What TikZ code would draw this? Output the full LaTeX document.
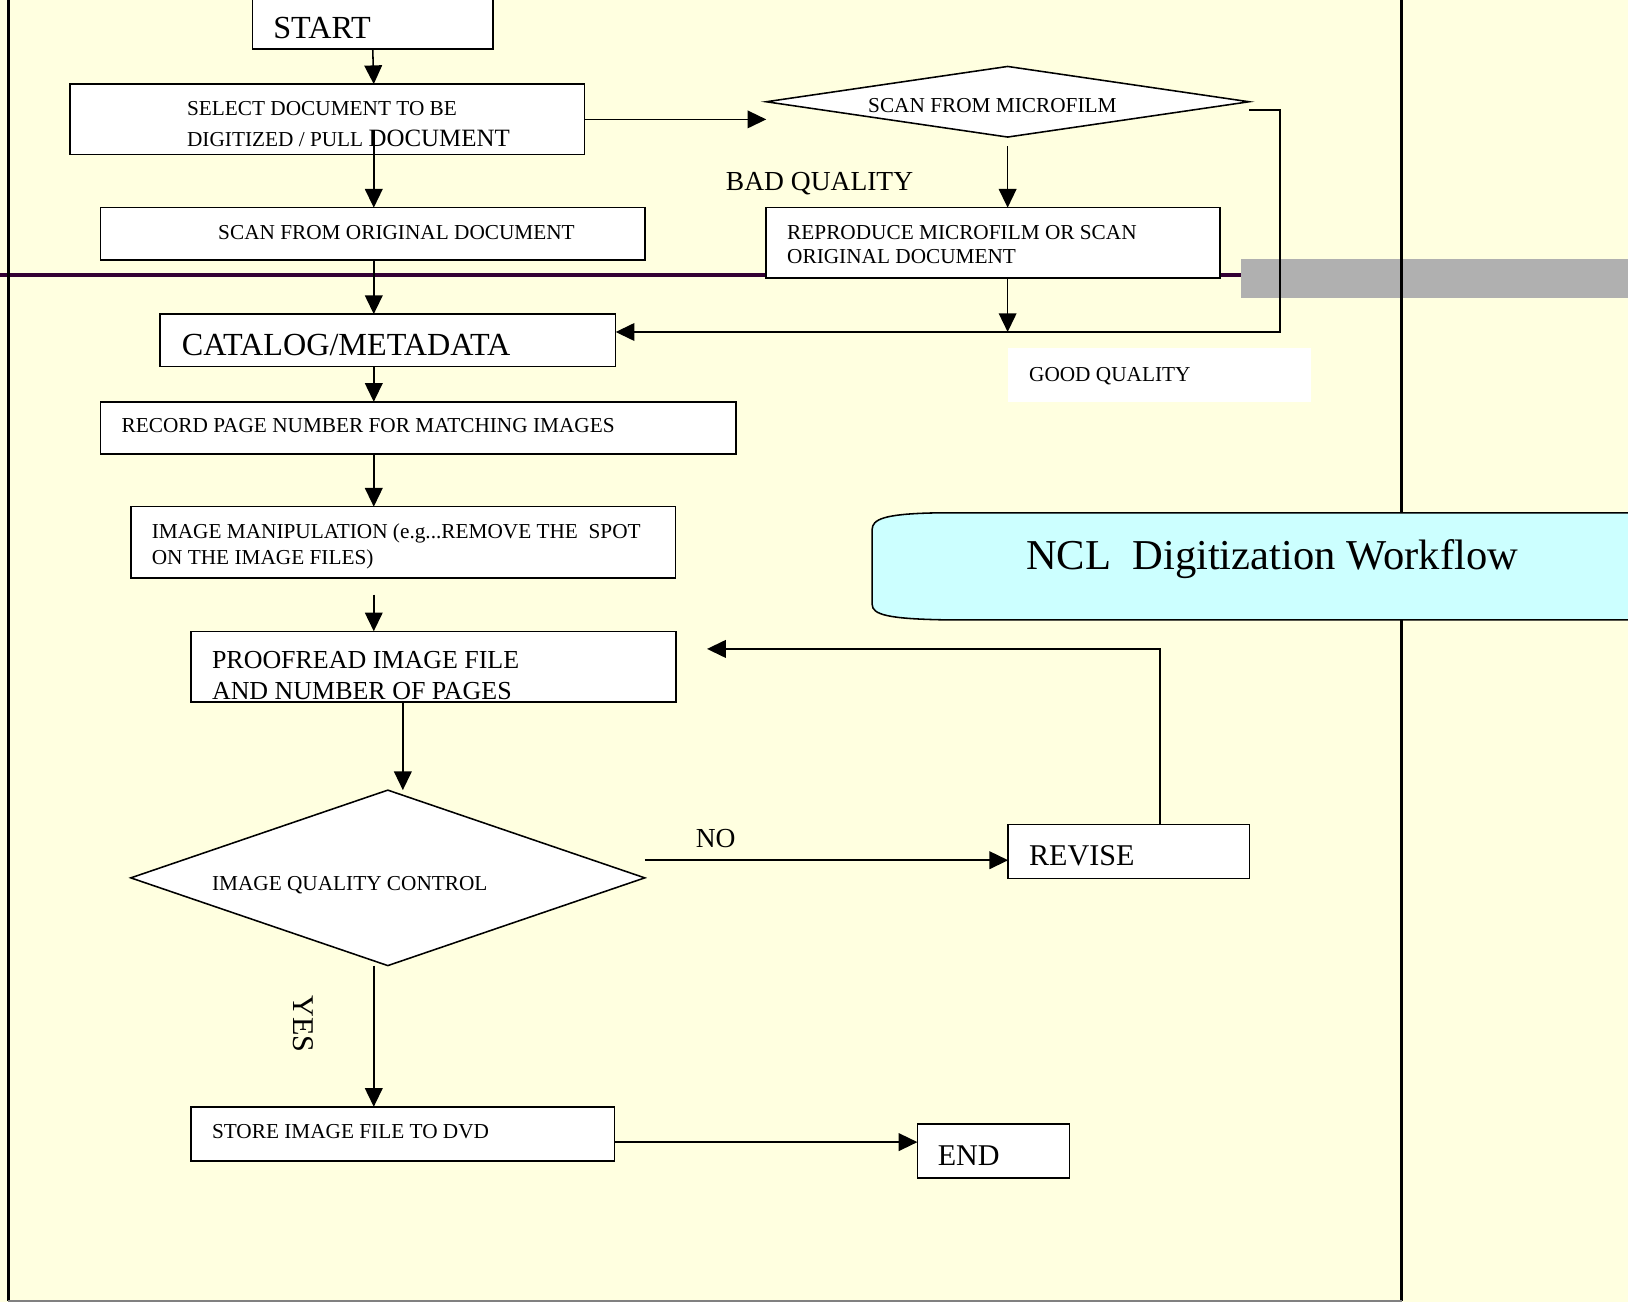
\documentclass[tikz,border=0pt]{standalone}
\usepackage{fontspec}
\setmainfont{Liberation Serif}
\usetikzlibrary{shapes.geometric,fit,arrows.meta}
\definecolor{paper}{RGB}{255,255,224}
\definecolor{banner}{RGB}{204,255,255}
\definecolor{rulecol}{RGB}{51,0,51}
\definecolor{barcol}{RGB}{176,176,176}
\begin{document}
\begin{tikzpicture}[x=1pt,y=-1pt,
    box/.style={draw,fill=white,line width=1.5pt,inner sep=0pt,outer sep=0pt},
    dmd/.style={draw,fill=white,diamond,line width=1.5pt,inner sep=0pt,outer sep=0pt},
    txt/.style={inner sep=0pt,anchor=base west},
    fsmall/.style={font=\fontsize{20.5}{24}\selectfont},
    fmid/.style={font=\fontsize{25}{29}\selectfont},
    flabel/.style={font=\fontsize{26.5}{30}\selectfont},
    fbig/.style={font=\fontsize{31}{35}\selectfont},
    fbigb/.style={font=\fontsize{29}{33}\selectfont},
    ftitle/.style={font=\fontsize{41}{45}\selectfont},
    arr/.style={line width=1.5pt,-{Triangle[length=18pt,width=17pt]}}]
      \clip (0,0) rectangle (1568,1254);
      \fill[paper] (0,0) rectangle (1568,1254);
      \draw[rulecol,line width=4pt] (0,264.5) -- (1195,264.5);
      \fill[barcol] (1195,249) rectangle (1600,287);
      \draw[line width=2.5pt] (8,-5) -- (8,1253) (1350,-5) -- (1350,1253);
      \draw[gray,line width=2pt] (8,1253) -- (1350,1253);
      % boxes and decisions
      \node[box,fit={(243,-10) (475,47.4)}] (start) {};
      \node[box,fit={(67.5,81) (563,149)}] (select) {};
      \node[box,fit={(96.7,200) (621,250.6)}] (scanorig) {};
      \node[box,fit={(154,302.5) (593,353)}] (catalog) {};
      \node[box,fit={(96.6,387) (709,437)}] (record) {};
      \node[box,fit={(126,488) (650.5,556.6)}] (manip) {};
      \node[box,fit={(184,608) (651,676)}] (proof) {};
      \node[box,fit={(184,1066) (592,1118)}] (store) {};
      \node[box,fit={(738,200) (1175,268)}] (repro) {};
      \node[box,fit={(971,794) (1203.5,846)}] (revise) {};
      \node[box,fit={(883.6,1082.6) (1030,1134.5)}] (stop) {};
      \node[fill=white,inner sep=0pt,fit={(971,335) (1263,387)}] (goodq) {};
      \node[dmd,minimum width=465pt,minimum height=68pt] (mf) at (970.5,98) {};
      \node[dmd,minimum width=495pt,minimum height=169pt] (quality) at (373.5,845.5) {};
      % texts
      \node[txt,fbig] (t-start) at (263,37) {START};
      \node[txt,fsmall] (t-sel1) at (180,111.5) {SELECT DOCUMENT TO BE};
      \node[txt,fsmall] (t-sel2) at (180,141) {DIGITIZED / PULL {\fontsize{24}{28}\selectfont DOCUMENT}};
      \node[txt,fsmall] (t-scan) at (210,231) {SCAN FROM ORIGINAL DOCUMENT};
      \node[txt,fbig] (t-cat) at (175,342) {CATALOG/METADATA};
      \node[txt,fsmall] (t-rec) at (117,417) {RECORD PAGE NUMBER FOR MATCHING IMAGES};
      \node[txt,fsmall] (t-man1) at (146,519) {IMAGE MANIPULATION (e.g...REMOVE THE\ \ SPOT};
      \node[txt,fsmall] (t-man2) at (146,544) {ON THE IMAGE FILES)};
      \node[txt,fmid] (t-pr1) at (204,644) {PROOFREAD IMAGE FILE};
      \node[txt,fmid] (t-pr2) at (204,673.5) {AND NUMBER OF PAGES};
      \node[txt,fsmall] (t-qc) at (204,858) {IMAGE QUALITY CONTROL};
      \node[txt,fsmall] (t-store) at (204,1097) {STORE IMAGE FILE TO DVD};
      \node[txt,fbigb] (t-stop) at (903,1123) {END};
      \node[txt,fbigb] (t-rev) at (991,834) {REVISE};
      \node[txt,fsmall] (t-mf) at (836,108) {SCAN FROM MICROFILM};
      \node[txt,fsmall] (t-rep1) at (758,231) {REPRODUCE MICROFILM OR SCAN};
      \node[txt,fsmall] (t-rep2) at (758,254) {ORIGINAL DOCUMENT};
      \node[txt,flabel] (t-bad) at (699,183) {BAD QUALITY};
      \node[txt,fsmall] (t-good) at (991,367) {GOOD QUALITY};
      \node[txt,flabel] (t-no) at (670,816) {NO};
      \node[inner sep=0pt,rotate=-90,fbigb] (t-yes) at (292,986) {YES};
      % connectors
      \coordinate (spine) at (360,0);
      \coordinate (gq) at ([yshift=8pt]catalog.east);
      \begin{scope}[arr]
        \draw (start.south) -- (spine |- select.north);
        \draw ([yshift=24pt]spine |- select.south) -- (spine |- scanorig.north);
        \draw (spine |- scanorig.south) -- (spine |- catalog.north);
        \draw (spine |- catalog.south) -- (spine |- record.north);
        \draw (spine |- record.south) -- (spine |- manip.north);
        \draw ([yshift=-16pt]spine |- manip.south) -- (spine |- proof.north);
        \draw ([xshift=28pt]spine |- proof.south) -- ([xshift=28pt]spine |- quality.north);
        \draw (spine |- quality.south) -- (spine |- store.north);
        \draw ([yshift=-8pt]store.east) -- ([yshift=-8pt]store.east -| stop.west);
        \draw ([yshift=17pt]quality.east) -- ([yshift=17pt]quality.east -| revise.west);
        \draw ([xshift=30pt]revise.north) |- ([xshift=30pt,yshift=17pt]proof.east);
        \draw (select.east) -- ([yshift=-17pt]mf.west);
        \draw ([yshift=-9pt]mf.south) -- (mf.south |- repro.north);
        \draw (mf.south |- repro.south) -- (mf.south |- gq);
        \draw ([yshift=-8pt]mf.east) -- ++(30,0) |- (gq);
      \end{scope}
      % title banner
      \draw[fill=banner,line width=1.5pt] (1600,494) -- (900,494)
        .. controls (852,495) and (840,500) .. (840,510) -- (840,582)
        .. controls (840,592) and (855,596) .. (910,597) -- (1600,597);
      \node[txt,ftitle] (t-title) at (988,548.5) {NCL\ \ Digitization Workflow};
\end{tikzpicture}
\end{document}
